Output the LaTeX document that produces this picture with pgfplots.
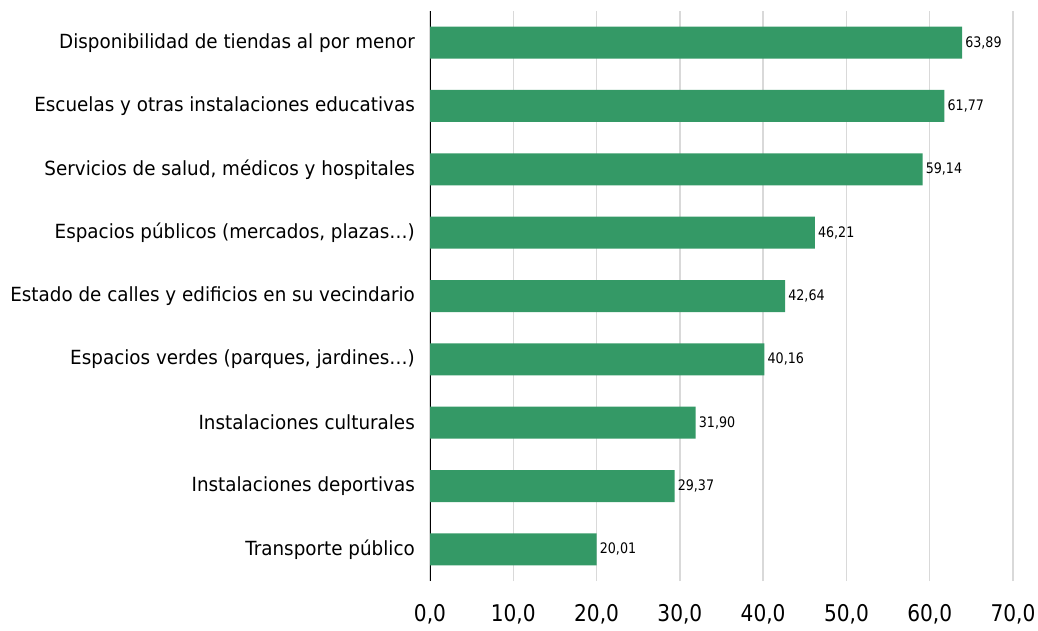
\documentclass[border=0pt]{standalone}
\usepackage{pgfplots}
\pgfplotsset{compat=1.18}
\usepackage{fontspec}
\setmainfont{DejaVu Sans}[FakeStretch=0.94]
\newfontfamily\tickfont{DejaVu Sans}[FakeStretch=0.875]
\definecolor{barg}{RGB}{52,153,102}
\definecolor{gridg}{RGB}{217,217,217}
\begin{document}
\begin{tikzpicture}[x=1pt,y=1pt]
\useasboundingbox (0,0) rectangle (1038,630);
\begin{axis}[
  at={(430pt,49pt)}, anchor=south west,
  scale only axis, width=583pt, height=570pt,
  xmin=0, xmax=70, ymin=-0.5, ymax=8.5,
  xbar, bar width=32pt,
  axis lines*=left,
  x axis line style={draw=none},
  y axis line style={black, line width=1pt},
  xtick={0,10,...,70},
  xmajorgrids, grid style={draw=gridg, line width=1.5pt},
  major tick length=0pt,
  ytick={0,...,8},
  yticklabels={Transporte público, Instalaciones deportivas, Instalaciones culturales, {Espacios verdes (parques, jardines…)}, Estado de calles y edificios en su vecindario, {Espacios públicos (mercados, plazas…)}, {Servicios de salud, médicos y hospitales}, Escuelas y otras instalaciones educativas, Disponibilidad de tiendas al por menor},
  yticklabel style={font=\fontsize{19.5}{22}\selectfont, anchor=east, inner sep=0pt, xshift=-15pt},
  xticklabel style={font=\tickfont\fontsize{23}{26}\selectfont, anchor=center, yshift=-33pt,
    /pgf/number format/.cd, fixed, fixed zerofill, precision=1, use comma, assume math mode=true},
  nodes near coords,
  nodes near coords style={font=\tickfont\fontsize{14.5}{16}\selectfont, anchor=west, inner sep=3pt,
    /pgf/number format/.cd, fixed, fixed zerofill, precision=2, use comma, assume math mode=true},
]
\addplot[fill=barg, draw=none] coordinates {
(20.01,0) (29.37,1) (31.90,2) (40.16,3) (42.64,4) (46.21,5) (59.14,6) (61.77,7) (63.89,8)
};
\end{axis}
\end{tikzpicture}
\end{document}
